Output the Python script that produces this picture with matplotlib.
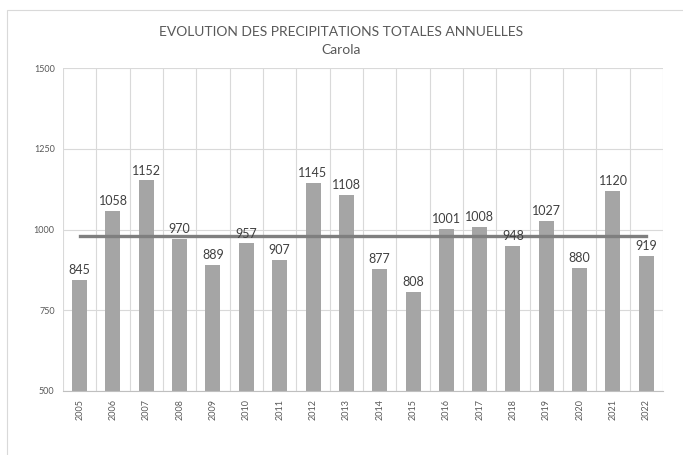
import numpy as np
import matplotlib.pyplot as plt
from matplotlib.patches import Rectangle

plt.rcParams['font.family'] = ['Lato', 'DejaVu Sans']

years = ['2005', '2006', '2007', '2008', '2009', '2010', '2011', '2012', '2013',
         '2014', '2015', '2016', '2017', '2018', '2019', '2020', '2021', '2022']
precip = [845, 1058, 1152, 970, 889, 957, 907, 1145, 1108,
          877, 808, 1001, 1008, 948, 1027, 880, 1120, 919]
y_ticks = [500, 750, 1000, 1250, 1500]

mean_val = np.mean(precip)
x = np.arange(len(years))

fig = plt.figure(figsize=(6.83, 4.55), dpi=100)
fig.patches.append(Rectangle((7 / 683, -0.1), 1.0, 1 - 10 / 455 + 0.1,
                             transform=fig.transFigure, fill=False,
                             edgecolor='#d9d9d9', linewidth=0.8))
ax = fig.add_axes([63 / 683, 1 - 391 / 455, 600 / 683, 323 / 455])

ax.bar(x, precip, width=0.45, color='#a5a5a5', zorder=2)
ax.plot([x[0], x[-1]], [mean_val, mean_val], color='#7f7f7f', linewidth=2.4, zorder=3)

for xi, v in zip(x, precip):
    ax.text(xi, v + 12, str(v), ha='center', va='bottom', fontsize=9, color='#404040', zorder=4)

ax.set_xlim(-0.5, len(years) - 0.5)
ax.set_ylim(500, 1500)
ax.set_yticks(y_ticks)
ax.set_yticklabels([str(t) for t in y_ticks], fontsize=6.5, color='#595959')
ax.set_xticks(x)
ax.set_xticklabels(years, rotation=90, fontsize=6.5, color='#595959')
ax.tick_params(length=0, pad=6)

for b in np.arange(-0.5, len(years), 1.0):
    ax.axvline(b, color='#d9d9d9', linewidth=0.8, zorder=1)
for t in y_ticks:
    ax.axhline(t, color='#d9d9d9', linewidth=0.8, zorder=1)

for s in ['top', 'right', 'left']:
    ax.spines[s].set_visible(False)
ax.spines['bottom'].set_color('#bfbfbf')
ax.spines['bottom'].set_zorder(3)

fig.text(0.5, 1 - 32 / 455, 'EVOLUTION DES PRECIPITATIONS TOTALES ANNUELLES',
         ha='center', va='center', fontsize=10, color='#595959')
fig.text(0.5, 1 - 50 / 455, 'Carola', ha='center', va='center', fontsize=10, color='#595959')

fig.savefig('out.png', dpi=100)
